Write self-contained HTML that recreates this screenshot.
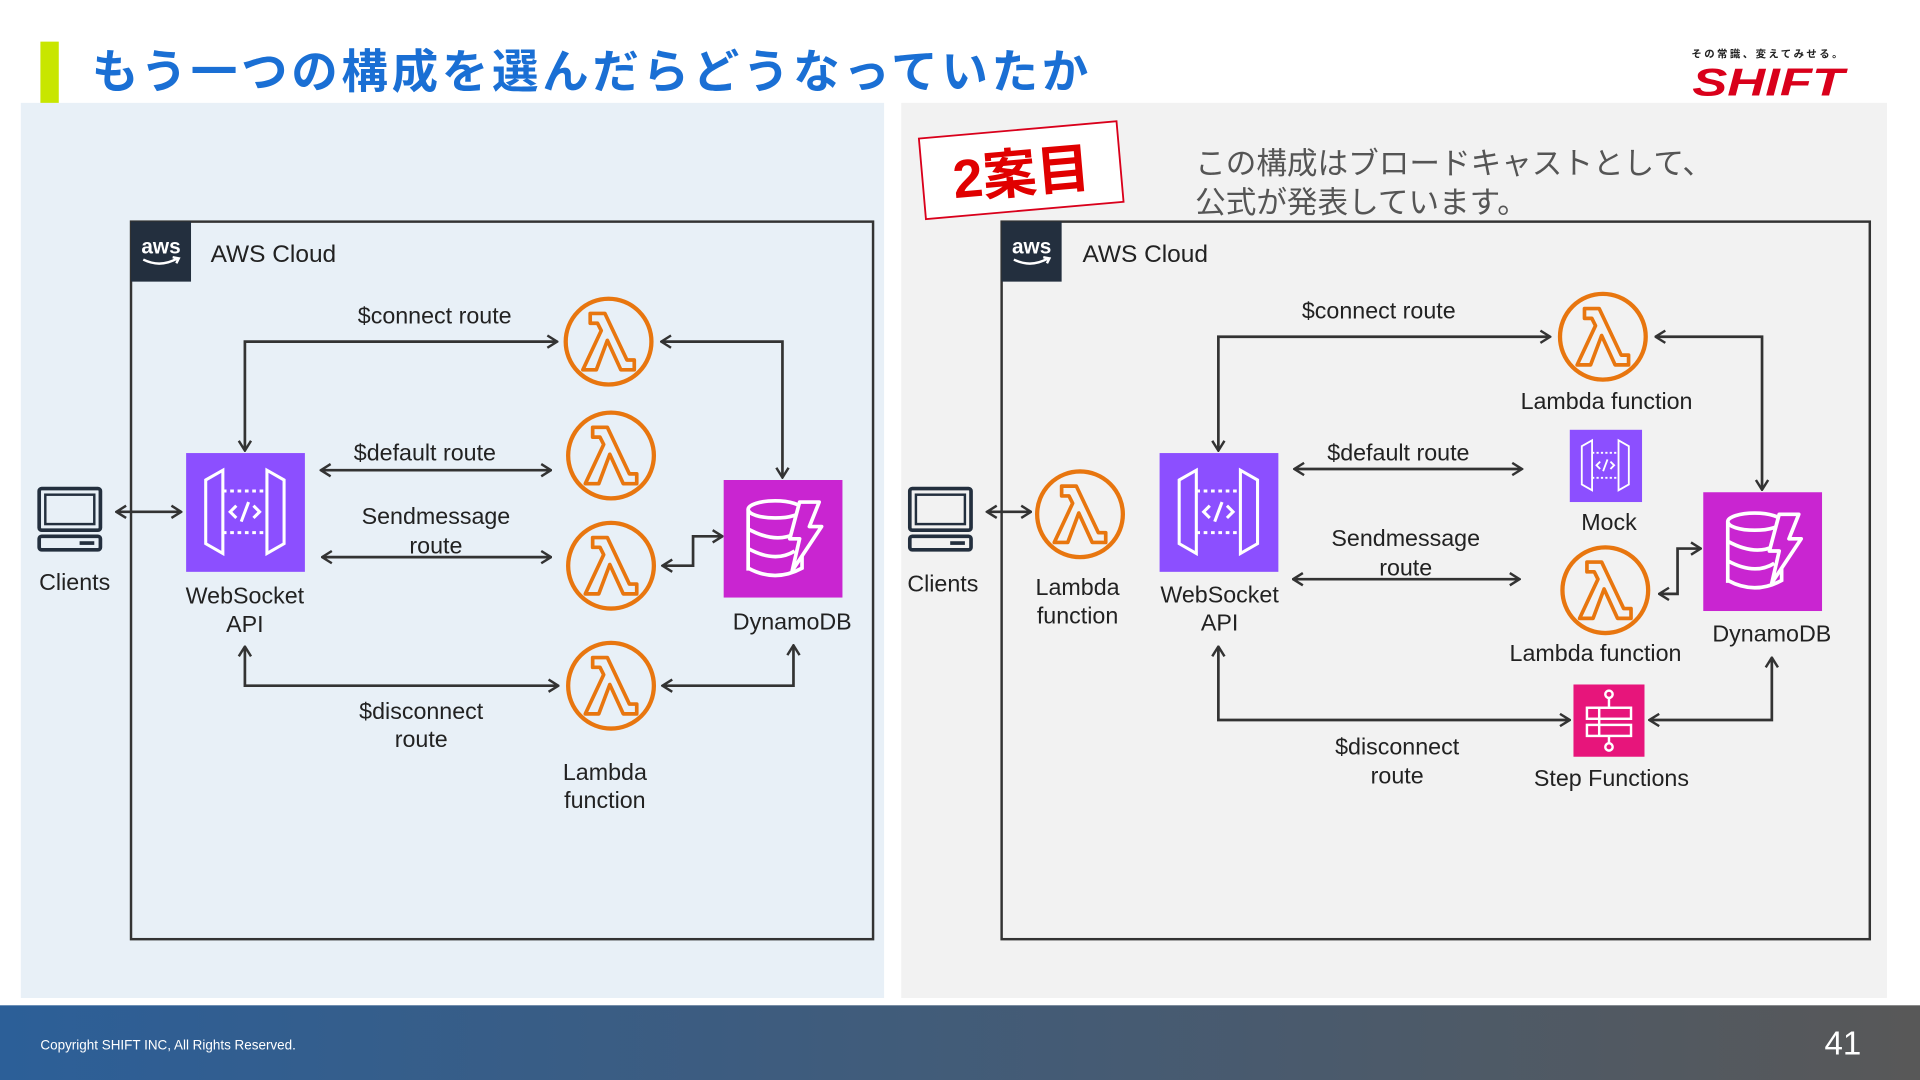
<!DOCTYPE html>
<html><head><meta charset="utf-8"><style>
html,body{margin:0;padding:0;width:1920px;height:1080px;overflow:hidden;background:#fff}
svg{display:block}
text{font-family:"Liberation Sans","Noto Sans CJK JP",sans-serif}
</style></head><body>
<svg width="1920" height="1080" viewBox="0 0 1568 882" xmlns="http://www.w3.org/2000/svg">
<defs>
<marker id="ar" viewBox="0 0 12 12" refX="11" refY="6" markerWidth="12" markerHeight="12" markerUnits="userSpaceOnUse" orient="auto-start-reverse">
<polyline points="3,1 11,6 3,11" fill="none" stroke="#333" stroke-width="2"/>
</marker>
<linearGradient id="ft" x1="0" x2="1"><stop offset="0" stop-color="#2c5f98"/><stop offset="1" stop-color="#585858"/></linearGradient>
<g id="lam">
<circle r="35" fill="none" stroke="#e8760f" stroke-width="3.5"/>
<path d="M-15,-23 L-3,-23 L15,15 L21,15 L21,23 L10,23 L-1,-1 L-10,23 L-21,23 L-6,-9 L-9,-15 L-15,-15 Z" fill="none" stroke="#e8760f" stroke-width="3" stroke-linejoin="round"/>
</g>
<g id="api">
<path d="M-32,-26 L-18,-34 L-18,34 L-32,26 Z M32,-26 L18,-34 L18,34 L32,26 Z" fill="none" stroke="#fff" stroke-width="2.5"/>
<path d="M-18,-17 H18 M-18,17 H18" stroke="#fff" stroke-width="2.5" stroke-dasharray="3,3"/>
<path d="M-7,-5 L-12,0 L-7,5 M7,-5 L12,0 L7,5 M3,-8 L-3,8" fill="none" stroke="#fff" stroke-width="2.5"/>
</g>
<g id="ddb">
<ellipse cx="-6" cy="-24" rx="22" ry="7" fill="none" stroke="#fff" stroke-width="3"/>
<path d="M-28,-24 V26 M16,-24 V-6 M-28,-8 Q-6,4 10,-4 M-28,8 Q-6,20 10,10 M-28,24 Q-6,36 16,24 V14" fill="none" stroke="#fff" stroke-width="3"/>
<path d="M14,-30 L30,-30 L22,-10 L32,-10 L8,26 L14,0 L6,0 Z" fill="#c925d1" stroke="#fff" stroke-width="3" stroke-linejoin="round"/>
</g>
<g id="pc">
<rect x="-25" y="-24" width="50" height="34" rx="2" fill="none" stroke="#232f3e" stroke-width="3"/>
<rect x="-20" y="-19" width="40" height="24" fill="none" stroke="#232f3e" stroke-width="2"/>
<rect x="-25" y="15" width="50" height="11" rx="2" fill="none" stroke="#232f3e" stroke-width="3"/>
<rect x="8" y="19" width="12" height="3" fill="#232f3e"/>
</g>
<g id="aws">
<rect width="49" height="49" fill="#232f3e"/>
<text x="24.5" y="26" font-size="17" fill="#fff" text-anchor="middle" font-weight="bold">aws</text>
<path d="M10,31 Q24,38 38,30 M34,29 L39,30 L37,34" fill="none" stroke="#fff" stroke-width="2"/>
</g>
</defs>

<!-- header -->
<rect x="33" y="34" width="15" height="53" fill="#c8e600"/>
<text x="75" y="72" font-size="38" font-weight="bold" fill="#1a6fd4" letter-spacing="3">もう一つの構成を選んだらどうなっていたか</text>
<text x="1444" y="47" font-size="8.5" fill="#222" text-anchor="middle" font-weight="bold" letter-spacing="2">その常識、変えてみせる。</text>
<text x="1444" y="78" font-size="32" fill="#d9001b" text-anchor="middle" font-weight="bold" font-style="italic" textLength="124" lengthAdjust="spacingAndGlyphs">SHIFT</text>

<!-- panels -->
<rect x="17" y="84" width="705" height="731" fill="#e8f0f7"/>
<rect x="736" y="84" width="805" height="731" fill="#f2f2f2"/>

<!-- footer -->
<rect x="0" y="821" width="1568" height="61" fill="url(#ft)"/>
<text x="33" y="857" font-size="11" fill="#fff">Copyright SHIFT INC, All Rights Reserved.</text>
<text x="1505" y="861" font-size="27" fill="#fff" text-anchor="middle">41</text>

<!-- LEFT DIAGRAM -->
<rect x="107" y="181" width="606" height="586" fill="none" stroke="#333" stroke-width="2"/>
<use href="#aws" x="107" y="181"/>
<text x="172" y="214" font-size="20" fill="#222">AWS Cloud</text>

<g fill="none" stroke="#333" stroke-width="2.2">
<path d="M200,368 V279 H455" marker-start="url(#ar)" marker-end="url(#ar)"/>
<path d="M540,279 H639 V390" marker-start="url(#ar)" marker-end="url(#ar)"/>
<path d="M262,384 H450" marker-start="url(#ar)" marker-end="url(#ar)"/>
<path d="M263,455 H450" marker-start="url(#ar)" marker-end="url(#ar)"/>
<path d="M541,462 H566 V438 H590" marker-start="url(#ar)" marker-end="url(#ar)"/>
<path d="M200,528 V560 H456" marker-start="url(#ar)" marker-end="url(#ar)"/>
<path d="M541,560 H648 V527" marker-start="url(#ar)" marker-end="url(#ar)"/>
<path d="M95,418 H148" marker-start="url(#ar)" marker-end="url(#ar)"/>
</g>

<use href="#lam" x="497" y="279"/>
<use href="#lam" x="499" y="372"/>
<use href="#lam" x="499" y="462"/>
<use href="#lam" x="499" y="560"/>
<rect x="152" y="370" width="97" height="97" fill="#8c4fff"/>
<use href="#api" x="200" y="418"/>
<rect x="591" y="392" width="97" height="96" fill="#c925d1"/>
<use href="#ddb" x="639" y="440"/>
<use href="#pc" x="57" y="423"/>

<g font-size="19" fill="#222" text-anchor="middle">
<text x="355" y="264">$connect route</text>
<text x="347" y="376">$default route</text>
<text x="356" y="428">Sendmessage</text>
<text x="356" y="452">route</text>
<text x="344" y="587">$disconnect</text>
<text x="344" y="610">route</text>
<text x="61" y="482">Clients</text>
<text x="200" y="493">WebSocket</text>
<text x="200" y="516">API</text>
<text x="647" y="514">DynamoDB</text>
<text x="494" y="637">Lambda</text>
<text x="494" y="660">function</text>
</g>

<!-- RIGHT DIAGRAM -->
<g transform="rotate(-5 834 139)">
<rect x="753" y="106" width="162" height="66" fill="#fff" stroke="#d9001b" stroke-width="1.5"/>
<text x="834" y="157" font-size="44" font-weight="bold" fill="#e00000" text-anchor="middle">2案目</text>
</g>
<text x="976" y="142" font-size="25" fill="#555">この構成はブロードキャストとして、</text>
<text x="976" y="174" font-size="25" fill="#555">公式が発表しています。</text>

<rect x="818" y="181" width="709" height="586" fill="none" stroke="#333" stroke-width="2"/>
<use href="#aws" x="818" y="181"/>
<text x="884" y="214" font-size="20" fill="#222">AWS Cloud</text>

<g fill="none" stroke="#333" stroke-width="2.2">
<path d="M995,368 V275 H1266" marker-start="url(#ar)" marker-end="url(#ar)"/>
<path d="M1352,275 H1439 V400" marker-start="url(#ar)" marker-end="url(#ar)"/>
<path d="M1057,383 H1243" marker-start="url(#ar)" marker-end="url(#ar)"/>
<path d="M1056,473 H1241" marker-start="url(#ar)" marker-end="url(#ar)"/>
<path d="M1355,485 H1370 V448 H1389" marker-start="url(#ar)" marker-end="url(#ar)"/>
<path d="M995,528 V588 H1282" marker-start="url(#ar)" marker-end="url(#ar)"/>
<path d="M1347,588 H1447 V537" marker-start="url(#ar)" marker-end="url(#ar)"/>
<path d="M806,418 H842" marker-start="url(#ar)" marker-end="url(#ar)"/>
</g>

<use href="#pc" x="768" y="423"/>
<use href="#lam" x="882" y="420"/>
<rect x="947" y="370" width="97" height="97" fill="#8c4fff"/>
<use href="#api" x="995" y="418"/>
<use href="#lam" x="1309" y="275"/>
<rect x="1282" y="351" width="59" height="59" fill="#8c4fff"/>
<use href="#api" x="1311" y="380" transform="translate(1311 380) scale(0.6) translate(-1311 -380)"/>
<use href="#lam" x="1311" y="482"/>
<rect x="1391" y="402" width="97" height="97" fill="#c925d1"/>
<use href="#ddb" x="1439" y="450"/>
<rect x="1285" y="559" width="58" height="59" fill="#e7157b"/>
<g fill="none" stroke="#fff" stroke-width="2">
<circle cx="1314" cy="567" r="3"/><circle cx="1314" cy="610" r="3"/>
<path d="M1314,570 V578 M1314,601 V607"/>
<rect x="1296" y="578" width="36" height="9"/><rect x="1296" y="592" width="36" height="9"/>
<path d="M1306,578 V601"/>
</g>

<g font-size="19" fill="#222" text-anchor="middle">
<text x="1126" y="260">$connect route</text>
<text x="1312" y="334">Lambda function</text>
<text x="1142" y="376">$default route</text>
<text x="1314" y="433">Mock</text>
<text x="1148" y="446">Sendmessage</text>
<text x="1148" y="470">route</text>
<text x="1303" y="540">Lambda function</text>
<text x="1447" y="524">DynamoDB</text>
<text x="1141" y="616">$disconnect</text>
<text x="1141" y="640">route</text>
<text x="1316" y="642">Step Functions</text>
<text x="770" y="483">Clients</text>
<text x="880" y="486">Lambda</text>
<text x="880" y="509">function</text>
<text x="996" y="492">WebSocket</text>
<text x="996" y="515">API</text>
</g>
</svg>
</body></html>
